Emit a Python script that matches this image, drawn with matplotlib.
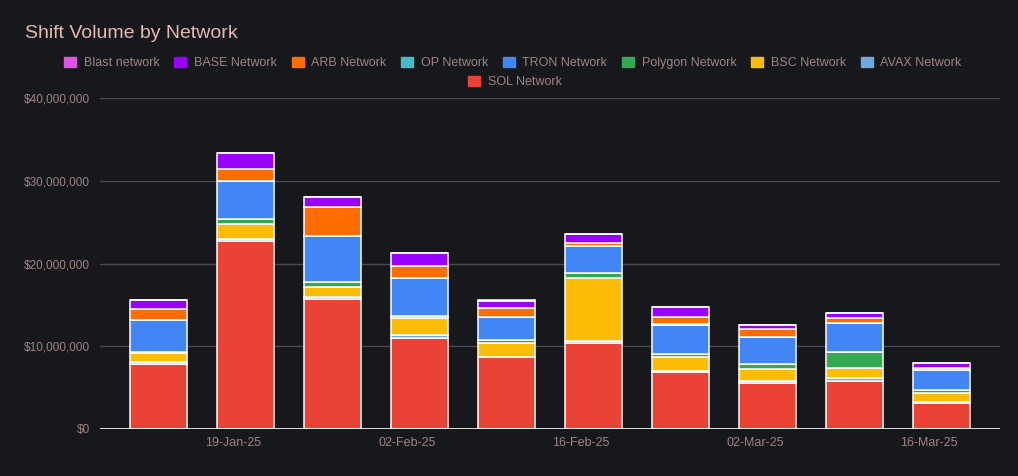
import numpy as np
import pandas as pd
import matplotlib
matplotlib.use('Agg')
import matplotlib.pyplot as plt
import matplotlib.dates as mdates
from matplotlib.patches import Patch
from matplotlib.ticker import FuncFormatter

# weekly shift volume, in $ millions
weeks = ['2025-01-13', '2025-01-20', '2025-01-27', '2025-02-03', '2025-02-10',
         '2025-02-17', '2025-02-24', '2025-03-03', '2025-03-10', '2025-03-17']
sol = [7.8, 22.7, 15.7, 10.95, 8.65, 10.35, 6.9, 5.5, 5.75, 3.2]
avax = [0.25, 0.3, 0.2, 0.45, 0.05, 0.25, 0.05, 0.25, 0.45, 0.05]
bsc = [1.1, 1.8, 1.2, 2.0, 1.7, 7.7, 1.75, 1.45, 1.2, 1.1]
polygon = [0.16, 0.6, 0.7, 0.3, 0.35, 0.5, 0.37, 0.6, 1.85, 0.35]
tron = [3.9, 4.6, 5.5, 4.5, 2.8, 3.3, 3.55, 3.35, 3.6, 2.4]
op = [0.02, 0.02, 0.02, 0.02, 0.02, 0.02, 0.02, 0.02, 0.02, 0.02]
arb = [1.3, 1.4, 3.5, 1.45, 1.0, 0.35, 0.85, 0.9, 0.55, 0.25]
base = [1.1, 1.9, 1.2, 1.55, 0.95, 1.05, 1.25, 0.45, 0.6, 0.6]
blast = [0.01, 0.01, 0.01, 0.01, 0.01, 0.01, 0.01, 0.01, 0.01, 0.01]

series = [
    ('SOL Network', sol, '#ea4335'),
    ('AVAX Network', avax, '#6fa8dc'),
    ('BSC Network', bsc, '#fbbc04'),
    ('Polygon Network', polygon, '#34a853'),
    ('TRON Network', tron, '#4285f4'),
    ('OP Network', op, '#46bdc6'),
    ('ARB Network', arb, '#ff6d01'),
    ('BASE Network', base, '#9900ff'),
    ('Blast network', blast, '#e152e6'),
]

bg = '#17181c'
label_col = '#a08282'

plt.rcParams['font.family'] = ['Liberation Sans', 'DejaVu Sans']

dates = pd.to_datetime(weeks)
fig = plt.figure(figsize=(10.18, 4.76), dpi=100, facecolor=bg)
ax = fig.add_axes([100 / 1018, 47 / 476, 900 / 1018, 331 / 476], facecolor=bg)

bottom = np.zeros(len(weeks))
for name, vals, col in series:
    v = np.array(vals) * 1e6
    ax.bar(dates, v, bottom=bottom, width=4.63, color=col, edgecolor='white',
           linewidth=1.1, label=name, zorder=3)
    bottom += v

ax.set_ylim(0, 40e6)
ax.set_yticks([0, 10e6, 20e6, 30e6, 40e6])
ax.yaxis.set_major_formatter(FuncFormatter(lambda v, p: f'${v:,.0f}'))
ax.set_xlim(pd.Timestamp('2025-01-08 07:00'), pd.Timestamp('2025-03-21 17:00'))
ax.set_xticks(pd.to_datetime(['2025-01-19', '2025-02-02', '2025-02-16', '2025-03-02', '2025-03-16']))
ax.xaxis.set_major_formatter(mdates.DateFormatter('%d-%b-%y'))

ax.grid(axis='y', color='#4a4a4d', linewidth=1, zorder=0)
ax.axhline(0, color='white', linewidth=1.2, zorder=4)
for s in ax.spines.values():
    s.set_visible(False)
ax.tick_params(length=0, colors=label_col, labelsize=8.5)
ax.tick_params(axis='x', labelsize=9)
ax.tick_params(axis='y', pad=7)
ax.tick_params(axis='x', pad=6)

fig.text(25 / 1018, 1 - 33 / 476, 'Shift Volume by Network', color='#e6b8b3',
         fontsize=14, va='center', ha='left')

# legend: two rows, centered
order = series[::-1]
h1 = [Patch(facecolor=c, edgecolor=c, label=n) for n, _, c in order[:-1]]
h2 = [Patch(facecolor=order[-1][2], edgecolor=order[-1][2], label=order[-1][0])]
kw = dict(frameon=False, fontsize=9, labelcolor=label_col, handlelength=0.95,
          handleheight=0.95, handletextpad=0.6, columnspacing=1.2, loc='center')
fig.legend(handles=h1, ncol=8, bbox_to_anchor=(513 / 1018, 1 - 63 / 476), **kw)
fig.legend(handles=h2, ncol=1, bbox_to_anchor=(515 / 1018, 1 - 82 / 476), **kw)

fig.savefig('out.png', dpi=100, facecolor=bg)
